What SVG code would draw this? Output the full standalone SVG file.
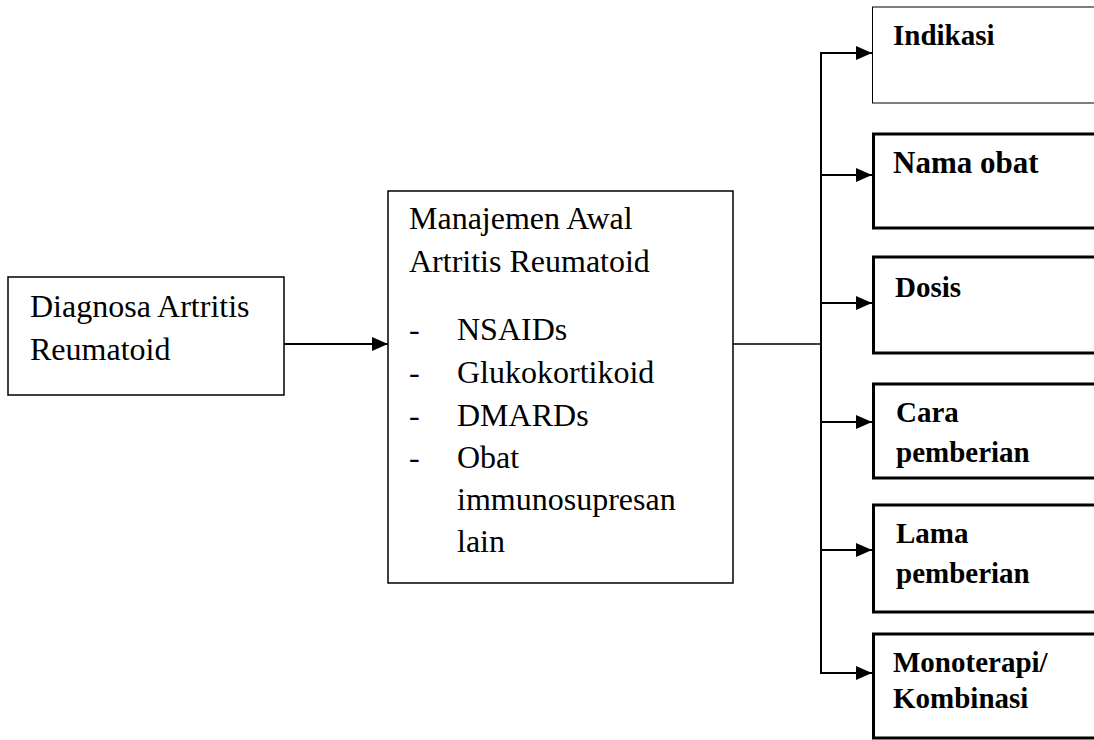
<svg xmlns="http://www.w3.org/2000/svg" width="1094" height="740" viewBox="0 0 1094 740">
<defs>
<style>
.box{fill:#fff;stroke:#000;stroke-width:1.5}
.thick{fill:#fff;stroke:#000;stroke-width:3}
.thin{fill:#fff;stroke:#000;stroke-width:1}
.reg{font-family:"Liberation Serif","Times New Roman",serif;font-size:32px;fill:#000}
.bold{font-family:"Liberation Serif","Times New Roman",serif;font-size:29px;font-weight:bold;fill:#000}
.con{fill:none;stroke:#000;stroke-width:2}
</style>
<marker id="ah" markerWidth="16" markerHeight="14" refX="16" refY="7" orient="auto" markerUnits="userSpaceOnUse">
<path d="M0,0 L16,7 L0,14 Z" fill="#000"/>
</marker>
</defs>
<rect width="1094" height="740" fill="#fff"/>
<g id="connectors">
<line class="con" x1="284" y1="344" x2="388" y2="344" marker-end="url(#ah)"/>
<line x1="733" y1="344" x2="821" y2="344" stroke="#000" stroke-width="1.5"/>
<line class="con" x1="821" y1="53" x2="821" y2="673"/>
<line class="con" x1="820" y1="53" x2="872" y2="53" marker-end="url(#ah)"/>
<line class="con" x1="820" y1="175" x2="872" y2="175" marker-end="url(#ah)"/>
<line class="con" x1="820" y1="303" x2="872" y2="303" marker-end="url(#ah)"/>
<line class="con" x1="820" y1="422" x2="872" y2="422" marker-end="url(#ah)"/>
<line class="con" x1="820" y1="550" x2="872" y2="550" marker-end="url(#ah)"/>
<line class="con" x1="820" y1="673" x2="872" y2="673" marker-end="url(#ah)"/>
</g>
<g id="diagnosa">
<rect class="box" x="8" y="277" width="276" height="118"/>
<text class="reg" x="30" y="317">Diagnosa Artritis</text>
<text class="reg" x="30" y="360">Reumatoid</text>
</g>
<g id="manajemen">
<rect class="box" x="388" y="191" width="345" height="392"/>
<text class="reg" x="409" y="229">Manajemen Awal</text>
<text class="reg" x="409" y="272">Artritis Reumatoid</text>
<text class="reg" x="409" y="340">-</text><text class="reg" x="457" y="340">NSAIDs</text>
<text class="reg" x="409" y="383">-</text><text class="reg" x="457" y="383">Glukokortikoid</text>
<text class="reg" x="409" y="426">-</text><text class="reg" x="457" y="426">DMARDs</text>
<text class="reg" x="409" y="468">-</text><text class="reg" x="457" y="468">Obat</text>
<text class="reg" x="457" y="510">immunosupresan</text>
<text class="reg" x="457" y="552">lain</text>
</g>
<g id="indikasi">
<rect class="thin" x="872.5" y="7" width="230" height="96"/>
<text class="bold" x="893" y="45">Indikasi</text>
</g>
<g id="nama-obat">
<rect class="thick" x="873.5" y="134" width="230" height="94"/>
<text class="bold" x="893" y="173" style="font-size:31px">Nama obat</text>
</g>
<g id="dosis">
<rect class="thick" x="873.5" y="257" width="230" height="96"/>
<text class="bold" x="895" y="297">Dosis</text>
</g>
<g id="cara">
<rect class="thick" x="873.5" y="384" width="230" height="94"/>
<text class="bold" x="896" y="422">Cara</text>
<text class="bold" x="896" y="462">pemberian</text>
</g>
<g id="lama">
<rect class="thick" x="873.5" y="505" width="230" height="107"/>
<text class="bold" x="896" y="543">Lama</text>
<text class="bold" x="896" y="583">pemberian</text>
</g>
<g id="monoterapi">
<rect class="thick" x="873.5" y="634" width="230" height="104"/>
<text class="bold" x="893" y="672">Monoterapi/</text>
<text class="bold" x="893" y="708">Kombinasi</text>
</g>
</svg>
